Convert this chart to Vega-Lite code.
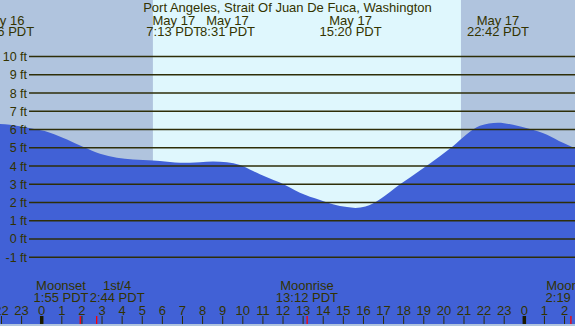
{
  "$schema": "https://vega.github.io/schema/vega-lite/v6.json",
  "autosize": {"type": "fit", "contains": "padding"},
  "width": 575,
  "height": 326,
  "padding": 0,
  "background": "#B0C4DE",
  "config": {"view": {"stroke": null}, "text": {"font": "Liberation Sans", "fontSize": 13, "color": "#333300"}},
  "datasets": {
    "bg": [
      {"start": -2.2, "end": 5.53, "period": "night"},
      {"start": 5.53, "end": 20.85, "period": "day"},
      {"start": 20.85, "end": 26.7, "period": "night"}
    ],
    "tide": [
      {"h": -2.2, "ft": 6.31}, {"h": -1.58, "ft": 6.26}, {"h": -1.1, "ft": 6.18}, {"h": -0.63, "ft": 6.08},
      {"h": 0.41, "ft": 5.83}, {"h": 1.26, "ft": 5.45}, {"h": 2.05, "ft": 5.05}, {"h": 2.9, "ft": 4.67},
      {"h": 3.74, "ft": 4.45}, {"h": 4.54, "ft": 4.36}, {"h": 5.53, "ft": 4.3}, {"h": 5.88, "ft": 4.27},
      {"h": 6.88, "ft": 4.18}, {"h": 7.87, "ft": 4.21}, {"h": 8.52, "ft": 4.25}, {"h": 9.21, "ft": 4.21},
      {"h": 9.86, "ft": 4.05}, {"h": 10.51, "ft": 3.72}, {"h": 10.85, "ft": 3.55}, {"h": 11.2, "ft": 3.39},
      {"h": 11.85, "ft": 3.09}, {"h": 12.84, "ft": 2.54}, {"h": 13.84, "ft": 2.14}, {"h": 14.48, "ft": 1.91},
      {"h": 15.18, "ft": 1.75}, {"h": 15.6, "ft": 1.7}, {"h": 16.1, "ft": 1.78}, {"h": 16.47, "ft": 1.95},
      {"h": 16.82, "ft": 2.18}, {"h": 17.82, "ft": 3.0}, {"h": 18.81, "ft": 3.76}, {"h": 19.8, "ft": 4.54},
      {"h": 20.45, "ft": 5.08}, {"h": 21.15, "ft": 5.76}, {"h": 21.79, "ft": 6.21}, {"h": 22.69, "ft": 6.37},
      {"h": 23.44, "ft": 6.26}, {"h": 24.28, "ft": 6.03}, {"h": 25.13, "ft": 5.72}, {"h": 25.92, "ft": 5.27},
      {"h": 26.7, "ft": 4.88}
    ],
    "grid": [
      {"ft": 10, "label": "10 ft"}, {"ft": 9, "label": "9 ft"}, {"ft": 8, "label": "8 ft"}, {"ft": 7, "label": "7 ft"},
      {"ft": 6, "label": "6 ft"}, {"ft": 5, "label": "5 ft"}, {"ft": 4, "label": "4 ft"}, {"ft": 3, "label": "3 ft"},
      {"ft": 2, "label": "2 ft"}, {"ft": 1, "label": "1 ft"}, {"ft": 0, "label": "0 ft"}, {"ft": -1, "label": "-1 ft"}
    ],
    "hours": [
      {"h": -2, "label": "22"}, {"h": -1, "label": "23"}, {"h": 0, "label": "0"}, {"h": 1, "label": "1"},
      {"h": 2, "label": "2"}, {"h": 3, "label": "3"}, {"h": 4, "label": "4"}, {"h": 5, "label": "5"},
      {"h": 6, "label": "6"}, {"h": 7, "label": "7"}, {"h": 8, "label": "8"}, {"h": 9, "label": "9"},
      {"h": 10, "label": "10"}, {"h": 11, "label": "11"}, {"h": 12, "label": "12"}, {"h": 13, "label": "13"},
      {"h": 14, "label": "14"}, {"h": 15, "label": "15"}, {"h": 16, "label": "16"}, {"h": 17, "label": "17"},
      {"h": 18, "label": "18"}, {"h": 19, "label": "19"}, {"h": 20, "label": "20"}, {"h": 21, "label": "21"},
      {"h": 22, "label": "22"}, {"h": 23, "label": "23"}, {"h": 24, "label": "0"}, {"h": 25, "label": "1"},
      {"h": 26, "label": "2"}
    ],
    "moon": [
      {"t": 1.917, "lh": 0.96, "event": "Moonset", "time": "1:55 PDT"},
      {"t": 2.733, "lh": 3.75, "event": "1st/4", "time": "2:44 PDT"},
      {"t": 13.2, "lh": 13.19, "event": "Moonrise", "time": "13:12 PDT"},
      {"t": 26.317, "lh": 26.42, "event": "Moonrise", "time": "2:19 PDT"}
    ],
    "extremes": [
      {"lh": -1.92, "date": "May 16", "time": "22:06 PDT"},
      {"lh": 6.57, "date": "May 17", "time": "7:13 PDT"},
      {"lh": 9.24, "date": "May 17", "time": "8:31 PDT"},
      {"lh": 15.36, "date": "May 17", "time": "15:20 PDT"},
      {"lh": 22.69, "date": "May 17", "time": "22:42 PDT"}
    ]
  },
  "encoding": {
    "x": {"type": "quantitative", "scale": {"domain": [-2.074, 26.52], "nice": false, "zero": false}, "axis": null},
    "y": {"type": "quantitative", "scale": {"domain": [-4.66, 13.1], "nice": false, "zero": false}, "axis": null}
  },
  "layer": [
    {
      "data": {"name": "bg"},
      "mark": {"type": "rect", "clip": true},
      "encoding": {
        "x": {"field": "start", "type": "quantitative"},
        "x2": {"field": "end"},
        "color": {"field": "period", "type": "nominal", "scale": {"domain": ["night", "day"], "range": ["#B0C4DE", "#DFF7FD"]}, "legend": null}
      }
    },
    {
      "data": {"name": "tide"},
      "mark": {"type": "area", "interpolate": "monotone", "color": "#4161D6", "clip": true},
      "encoding": {
        "x": {"field": "h", "type": "quantitative"},
        "y": {"field": "ft", "type": "quantitative"},
        "y2": {"datum": -4.8}
      }
    },
    {
      "data": {"name": "grid"},
      "mark": {"type": "rule", "color": "#2E2E08", "strokeWidth": 1.4, "clip": true},
      "encoding": {
        "x": {"datum": -0.63},
        "x2": {"datum": 26.7},
        "y": {"field": "ft", "type": "quantitative"}
      }
    },
    {
      "data": {"name": "grid"},
      "mark": {"type": "text", "align": "right", "baseline": "middle", "fontSize": 12.5, "dy": 0.5},
      "encoding": {
        "x": {"datum": -0.73},
        "y": {"field": "ft", "type": "quantitative"},
        "text": {"field": "label"}
      }
    },
    {
      "data": {"name": "hours"},
      "transform": [{"filter": "datum.label != '0'"}],
      "mark": {"type": "rule", "color": "#2E2E08", "strokeWidth": 1},
      "encoding": {
        "x": {"field": "h", "type": "quantitative"},
        "y": {"datum": -4.22},
        "y2": {"datum": -4.66}
      }
    },
    {
      "data": {"name": "hours"},
      "transform": [{"filter": "datum.label == '0'"}],
      "mark": {"type": "rule", "color": "#1A1A00", "strokeWidth": 3.5},
      "encoding": {
        "x": {"field": "h", "type": "quantitative"},
        "y": {"datum": -4.22},
        "y2": {"datum": -4.66}
      }
    },
    {
      "data": {"name": "moon"},
      "mark": {"type": "rule", "color": "#FF0000", "strokeWidth": 1.3, "clip": true},
      "encoding": {
        "x": {"field": "t", "type": "quantitative"},
        "y": {"datum": -4.22},
        "y2": {"datum": -4.66}
      }
    },
    {
      "data": {"name": "hours"},
      "mark": {"type": "text", "align": "center", "baseline": "alphabetic", "clip": true},
      "encoding": {
        "x": {"field": "h", "type": "quantitative"},
        "y": {"datum": -4.17},
        "text": {"field": "label"}
      }
    },
    {
      "data": {"name": "moon"},
      "mark": {"type": "text", "align": "center", "baseline": "alphabetic", "clip": true},
      "encoding": {
        "x": {"field": "lh", "type": "quantitative"},
        "y": {"datum": -2.8},
        "text": {"field": "event"}
      }
    },
    {
      "data": {"name": "moon"},
      "mark": {"type": "text", "align": "center", "baseline": "alphabetic", "clip": true},
      "encoding": {
        "x": {"field": "lh", "type": "quantitative"},
        "y": {"datum": -3.46},
        "text": {"field": "time"}
      }
    },
    {
      "data": {"name": "extremes"},
      "mark": {"type": "text", "align": "center", "baseline": "alphabetic", "clip": true},
      "encoding": {
        "x": {"field": "lh", "type": "quantitative"},
        "y": {"datum": 11.74},
        "text": {"field": "date"}
      }
    },
    {
      "data": {"name": "extremes"},
      "mark": {"type": "text", "align": "center", "baseline": "alphabetic", "clip": true},
      "encoding": {
        "x": {"field": "lh", "type": "quantitative"},
        "y": {"datum": 11.14},
        "text": {"field": "time"}
      }
    },
    {
      "data": {"values": [{"title": "Port Angeles, Strait Of Juan De Fuca, Washington"}]},
      "mark": {"type": "text", "align": "center", "baseline": "alphabetic"},
      "encoding": {
        "x": {"datum": 12.22},
        "y": {"datum": 12.45},
        "text": {"field": "title"}
      }
    }
  ]
}
